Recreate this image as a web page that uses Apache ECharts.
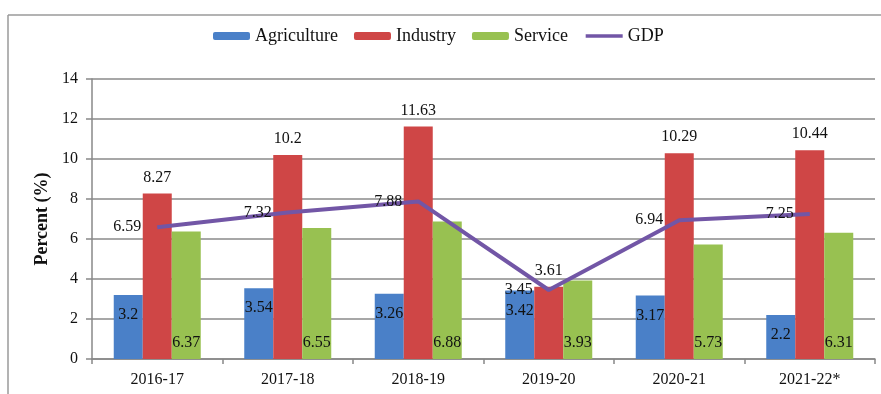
<!DOCTYPE html>
<html>
<head>
<meta charset="utf-8">
<script src="https://cdn.jsdelivr.net/npm/echarts@6/dist/echarts.min.js"></script>
<style>html,body{margin:0;padding:0;background:#fff;}#c{width:881px;height:394px;}</style>
</head>
<body>
<div id="c"></div>
<script>
var categories = ['2016-17', '2017-18', '2018-19', '2019-20', '2020-21', '2021-22*'];
var agriculture = [3.2, 3.54, 3.26, 3.42, 3.17, 2.2];
var industry = [8.27, 10.2, 11.63, 3.61, 10.29, 10.44];
var service = [6.37, 6.55, 6.88, 3.93, 5.73, 6.31];
var gdp = [6.59, 7.32, 7.88, 3.45, 6.94, 7.25];
var yTicks = [0, 2, 4, 6, 8, 10, 12, 14];

var FONT = '"Liberation Serif", "Times New Roman", serif';
var TXT = '#111';
var chart = echarts.init(document.getElementById('c'), null, {renderer: 'canvas'});
var lbl = function (pos, dist) {
  return {show: true, position: pos, distance: dist, fontFamily: FONT, fontSize: 16, color: TXT};
};
chart.setOption({
  animation: false,
  backgroundColor: '#fff',
  textStyle: {fontFamily: FONT, color: TXT},
  graphic: [
    {type: 'line', shape: {x1: 8, y1: 15, x2: 881, y2: 15}, style: {stroke: '#9a9a9a', lineWidth: 1.5}},
    {type: 'line', shape: {x1: 8, y1: 15, x2: 8, y2: 394}, style: {stroke: '#9a9a9a', lineWidth: 1.5}}
  ],
  legend: {
    left: 208, top: 22,
    itemWidth: 37, itemHeight: 8, itemGap: 16,
    textStyle: {fontFamily: FONT, fontSize: 18, color: TXT},
    data: ['Agriculture', 'Industry', 'Service',
      {name: 'GDP', itemStyle: {opacity: 0}, lineStyle: {width: 3.5}}]
  },
  grid: {left: 92, right: 6, top: 79, bottom: 35, containLabel: false},
  xAxis: {
    type: 'category', data: categories,
    axisLine: {lineStyle: {color: '#888', width: 1.5}},
    axisTick: {show: true, length: 5, lineStyle: {color: '#888', width: 1.5}},
    axisLabel: {fontFamily: FONT, fontSize: 16, color: TXT, margin: 13}
  },
  yAxis: {
    type: 'value', min: yTicks[0], max: yTicks[yTicks.length - 1], interval: 2,
    name: 'Percent (%)', nameLocation: 'middle', nameRotate: 90, nameGap: 38,
    nameTextStyle: {fontFamily: FONT, fontSize: 18, fontWeight: 'bold', color: TXT},
    axisLine: {show: true, lineStyle: {color: '#888', width: 1.5}},
    axisTick: {show: true, length: 6, lineStyle: {color: '#888', width: 1.5}},
    axisLabel: {fontFamily: FONT, fontSize: 16, color: TXT, margin: 14},
    splitLine: {lineStyle: {color: '#8a8a8a', width: 1.5}}
  },
  series: [
    {name: 'Agriculture', type: 'bar', data: agriculture, barWidth: 29, barGap: '0%',
      itemStyle: {color: '#4a80c8'}, label: lbl('insideTop', 12)},
    {name: 'Industry', type: 'bar', data: industry, barWidth: 29, barGap: '0%',
      itemStyle: {color: '#cf4646'}, label: lbl('top', 8)},
    {name: 'Service', type: 'bar', data: service, barWidth: 29, barGap: '0%',
      itemStyle: {color: '#98c151'}, label: lbl('insideBottom', 8)},
    {name: 'GDP', type: 'line', data: gdp, symbol: 'circle', symbolSize: 0.01, showSymbol: true, z: 5,
      lineStyle: {color: '#7256a6', width: 4}, itemStyle: {color: '#7256a6'},
      label: lbl('left', 16)}
  ]
});
</script>
</body>
</html>
